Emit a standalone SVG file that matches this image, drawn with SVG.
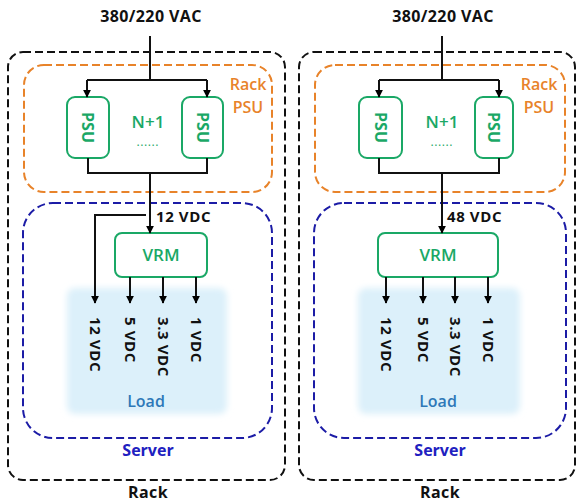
<svg xmlns="http://www.w3.org/2000/svg" width="577" height="503" viewBox="0 0 577 503">
  <defs>
    <marker id="arrow" viewBox="0 0 10 10" refX="9" refY="5" markerWidth="8" markerHeight="8" markerUnits="userSpaceOnUse" orient="auto">
      <path d="M0,0 L10,5 L0,10 Z" fill="#000"/>
    </marker>
    <filter id="soft" x="-10%" y="-10%" width="120%" height="120%">
      <feGaussianBlur stdDeviation="3"/>
    </filter>
    <style>
      text { font-family: "Open Sans", "Noto Sans", sans-serif; font-weight: 600; }
      .title { font-size: 16px; fill: #111; text-anchor: middle; letter-spacing: 0.4px; font-weight: 700; }
      .rack { fill: none; stroke: #111; stroke-width: 2; stroke-dasharray: 8 4; }
      .rackpsu { fill: none; stroke: #e8832a; stroke-width: 2; stroke-dasharray: 8 4; }
      .server { fill: none; stroke: #1c1ca6; stroke-width: 2; stroke-dasharray: 8 4; }
      .unit { fill: #fff; stroke: #1aa866; stroke-width: 2; }
      .load { fill: #dcf0fa; filter: url(#soft); }
      .green { fill: #1aa866; font-size: 17px; text-anchor: middle; }
      .psu { font-size: 16px; font-weight: 700; }
      .dots { font-size: 10px; letter-spacing: 1px; }
      .orange { fill: #e8832a; font-size: 16px; text-anchor: middle; }
      .blue { fill: #2020c0; font-size: 16px; text-anchor: middle; font-weight: 700; }
      .loadtxt { fill: #2e78b8; font-size: 16px; text-anchor: middle; }
      .volt { fill: #111; font-size: 15px; letter-spacing: 0.6px; font-weight: 700; }
      .wire { fill: none; stroke: #111; stroke-width: 2; }
      .arr { marker-end: url(#arrow); }
    </style>
  </defs>

  <!-- ===== Left: 12 VDC rack ===== -->
  <g id="left-rack">
    <rect class="rack" x="8" y="52" width="277" height="428" rx="15"/>
    <text class="title" x="148" y="498">Rack</text>
  </g>
  <g id="left-rack-psu">
    <rect class="rackpsu" x="24" y="65" width="248" height="127" rx="20"/>
    <text class="orange" x="248" y="90">Rack</text>
    <text class="orange" x="248" y="113">PSU</text>
    <text class="green" x="148" y="128">N+1</text>
    <text class="green dots" x="148" y="146">......</text>
  </g>
  <g id="left-psu-a">
    <rect class="unit" x="67" y="97" width="42" height="61" rx="8"/>
    <text class="green psu" dy="0.35em" transform="translate(88,127.5) rotate(90)">PSU</text>
  </g>
  <g id="left-psu-b">
    <rect class="unit" x="182" y="97" width="41" height="61" rx="8"/>
    <text class="green psu" dy="0.35em" transform="translate(202.5,127.5) rotate(90)">PSU</text>
  </g>
  <g id="left-server">
    <rect class="server" x="23" y="203" width="249" height="235" rx="30"/>
    <text class="blue" x="148" y="456">Server</text>
  </g>
  <g id="left-load">
    <rect class="load" x="67" y="288" width="160" height="126" rx="8"/>
    <text class="loadtxt" x="146" y="407">Load</text>
  </g>
  <g id="left-vrm">
    <rect class="unit" x="115" y="233" width="92" height="44" rx="7"/>
    <text class="green" x="161" y="261">VRM</text>
  </g>
  <text class="title" x="151" y="22">380/220 VAC</text>
  <text class="volt" x="156" y="222">12 VDC</text>
  <text class="volt" dy="0.35em" transform="translate(95,317) rotate(90)">12 VDC</text>
  <text class="volt" dy="0.35em" transform="translate(130,317) rotate(90)">5 VDC</text>
  <text class="volt" dy="0.35em" transform="translate(163,317) rotate(90)">3.3 VDC</text>
  <text class="volt" dy="0.35em" transform="translate(196,317) rotate(90)">1 VDC</text>

  <!-- ===== Right: 48 VDC rack ===== -->
  <g id="right-rack">
    <rect class="rack" x="299" y="52" width="276" height="428" rx="15"/>
    <text class="title" x="440" y="498">Rack</text>
  </g>
  <g id="right-rack-psu">
    <rect class="rackpsu" x="315" y="65" width="250" height="127" rx="20"/>
    <text class="orange" x="539" y="90">Rack</text>
    <text class="orange" x="539" y="113">PSU</text>
    <text class="green" x="442" y="128">N+1</text>
    <text class="green dots" x="442" y="146">......</text>
  </g>
  <g id="right-psu-a">
    <rect class="unit" x="359" y="97" width="43" height="61" rx="8"/>
    <text class="green psu" dy="0.35em" transform="translate(380.5,127.5) rotate(90)">PSU</text>
  </g>
  <g id="right-psu-b">
    <rect class="unit" x="475" y="97" width="38" height="61" rx="8"/>
    <text class="green psu" dy="0.35em" transform="translate(494,127.5) rotate(90)">PSU</text>
  </g>
  <g id="right-server">
    <rect class="server" x="314" y="203" width="252" height="235" rx="30"/>
    <text class="blue" x="440" y="456">Server</text>
  </g>
  <g id="right-load">
    <rect class="load" x="358" y="288" width="162" height="126" rx="8"/>
    <text class="loadtxt" x="438" y="407">Load</text>
  </g>
  <g id="right-vrm">
    <rect class="unit" x="378" y="233" width="120" height="44" rx="7"/>
    <text class="green" x="438" y="261">VRM</text>
  </g>
  <text class="title" x="443" y="22">380/220 VAC</text>
  <text class="volt" x="447" y="222">48 VDC</text>
  <text class="volt" dy="0.35em" transform="translate(386,317) rotate(90)">12 VDC</text>
  <text class="volt" dy="0.35em" transform="translate(423,317) rotate(90)">5 VDC</text>
  <text class="volt" dy="0.35em" transform="translate(455,317) rotate(90)">3.3 VDC</text>
  <text class="volt" dy="0.35em" transform="translate(488,317) rotate(90)">1 VDC</text>

  <!-- ===== Power wiring ===== -->
  <g id="connectors">
    <!-- left side -->
    <path class="wire" d="M150,36 V80 M87,80 H207"/>
    <path class="wire arr" d="M87,80 V97"/>
    <path class="wire arr" d="M207,80 V97"/>
    <path class="wire" d="M88,158 V173 H207 V158"/>
    <path class="wire arr" d="M150,173 V233"/>
    <path class="wire arr" d="M146,215 H95 V303"/>
    <path class="wire arr" d="M130,277 V303"/>
    <path class="wire arr" d="M163,277 V303"/>
    <path class="wire arr" d="M196,277 V303"/>
    <!-- right side -->
    <path class="wire" d="M442,36 V80 M379,80 H499"/>
    <path class="wire arr" d="M379,80 V97"/>
    <path class="wire arr" d="M499,80 V97"/>
    <path class="wire" d="M379,158 V173 H499 V158"/>
    <path class="wire arr" d="M442,173 V233"/>
    <path class="wire arr" d="M386,277 V303"/>
    <path class="wire arr" d="M423,277 V303"/>
    <path class="wire arr" d="M455,277 V303"/>
    <path class="wire arr" d="M488,277 V303"/>
  </g>
</svg>
